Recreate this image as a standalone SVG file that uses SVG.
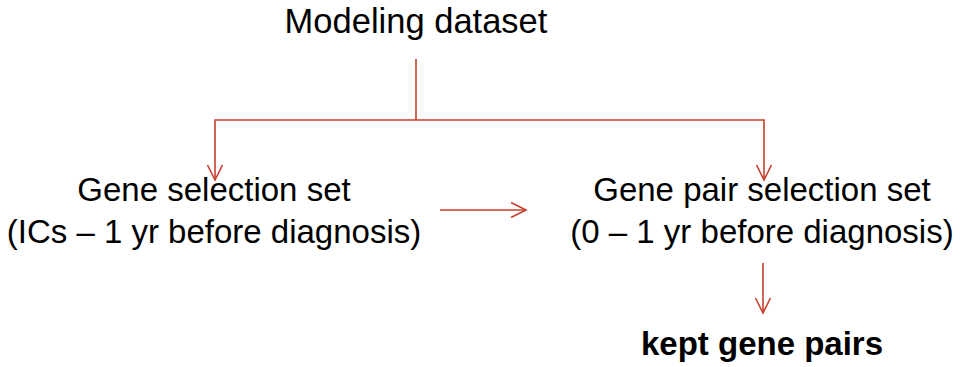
<svg xmlns="http://www.w3.org/2000/svg" width="961" height="367" viewBox="0 0 961 367">
  <style>
    .lbl { font-family: "Liberation Sans", Arial, sans-serif; font-size: 33px; fill: #000; text-anchor: middle; }
    .title { font-size: 34.5px; }
    .bold { font-weight: bold; }
    .wire { fill: none; stroke: #C4402C; stroke-width: 1.6; }
  </style>
  <defs>
    <marker id="open" viewBox="0 0 18 18" refX="16" refY="9" markerWidth="18" markerHeight="18" markerUnits="userSpaceOnUse" orient="auto">
      <path d="M1,1.5 L16,9 L1,16.5" fill="none" stroke="#C4402C" stroke-width="1.6"/>
    </marker>
  </defs>

  <g id="modeling-dataset">
    <text class="lbl title" x="416" y="33">Modeling dataset</text>
  </g>
  <g id="gene-selection-set">
    <text class="lbl" x="214" y="201">Gene selection set</text>
    <text class="lbl" x="214" y="243">(ICs – 1 yr before diagnosis)</text>
  </g>
  <g id="gene-pair-selection-set">
    <text class="lbl" x="762" y="201">Gene pair selection set</text>
    <text class="lbl" x="762" y="243">(0 – 1 yr before diagnosis)</text>
  </g>
  <g id="kept-gene-pairs">
    <text class="lbl bold" x="762" y="355">kept gene pairs</text>
  </g>

  <g id="connectors">
    <!-- split from the modeling dataset into both selection sets -->
    <path class="wire" d="M416,59 V120"/>
    <path class="wire" d="M416,120 H215 V180" marker-end="url(#open)"/>
    <path class="wire" d="M416,120 H764 V180" marker-end="url(#open)"/>
    <!-- gene selection feeds gene pair selection -->
    <path class="wire" d="M440,210 H526" marker-end="url(#open)"/>
    <!-- gene pair selection yields kept pairs -->
    <path class="wire" d="M763,263 V313" marker-end="url(#open)"/>
  </g>
</svg>
